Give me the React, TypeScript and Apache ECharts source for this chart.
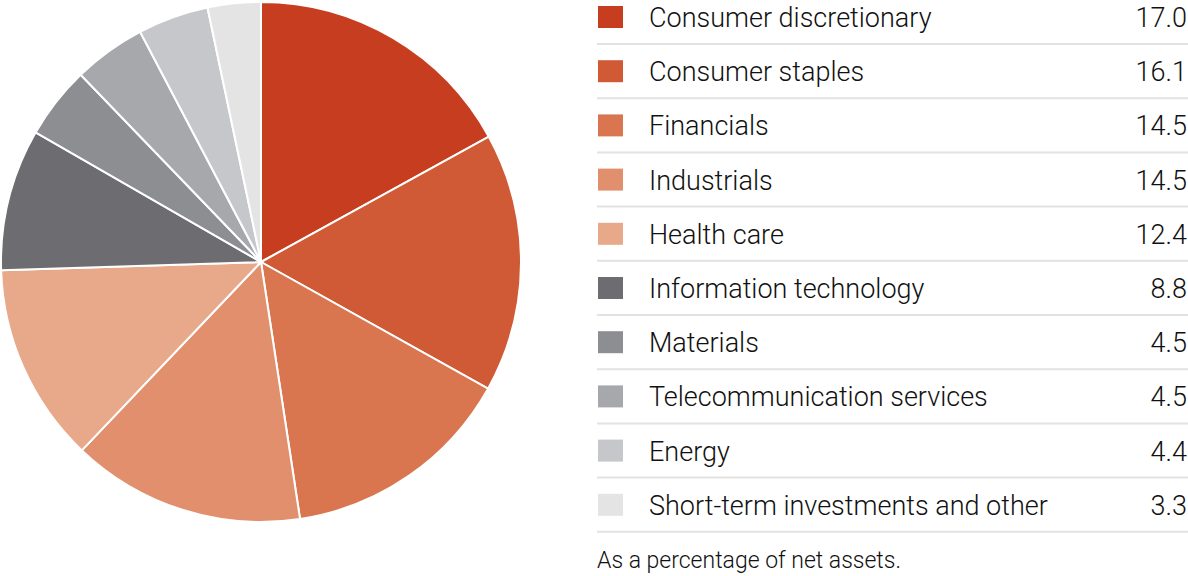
import React, { useEffect, useRef } from "react";
import * as echarts from "echarts";

const categories = [
  "Consumer discretionary",
  "Consumer staples",
  "Financials",
  "Industrials",
  "Health care",
  "Information technology",
  "Materials",
  "Telecommunication services",
  "Energy",
  "Short-term investments and other",
];
const values = [17.0, 16.1, 14.5, 14.5, 12.4, 8.8, 4.5, 4.5, 4.4, 3.3];
const valueLabels = ["17.0", "16.1", "14.5", "14.5", "12.4", "8.8", "4.5", "4.5", "4.4", "3.3"];
const colors = [
  "#C63E1F",
  "#D05A35",
  "#D9764F",
  "#E28F6E",
  "#E8A98A",
  "#6D6D71",
  "#8C8E91",
  "#A7A8AB",
  "#C6C7CA",
  "#E4E4E5",
];
const footnote = "As a percentage of net assets.";

const FONT = "Roboto, sans-serif";

export default function App() {
  const ref = useRef<HTMLDivElement>(null);
  useEffect(() => {
    if (!ref.current) return;
    const chart = echarts.init(ref.current, null, { renderer: "svg" });
    const rowTop = 0;
    const rowH = 54.2;
    const graphics: any[] = [];
    categories.forEach((c, i) => {
      const cy = rowTop + 17 + i * rowH;
      graphics.push({
        type: "rect",
        shape: { x: 598, y: cy - 11, width: 25, height: 22 },
        style: { fill: colors[i] },
      });
      graphics.push({
        type: "text",
        x: 649,
        y: cy + 1,
        style: {
          text: c,
          fill: "#111",
          font: `300 27px ${FONT}`,
          verticalAlign: "middle",
          align: "left",
        },
      });
      graphics.push({
        type: "text",
        x: 1187,
        y: cy + 1,
        style: {
          text: valueLabels[i],
          fill: "#111",
          font: `300 27px ${FONT}`,
          verticalAlign: "middle",
          align: "right",
        },
      });
      graphics.push({
        type: "line",
        shape: { x1: 597, y1: cy + 27, x2: 1188, y2: cy + 27 },
        style: { stroke: "#E2E2E2", lineWidth: 2 },
      });
    });
    graphics.push({
      type: "text",
      x: 597,
      y: 560,
      style: {
        text: footnote,
        fill: "#111",
        font: `300 23px ${FONT}`,
        verticalAlign: "middle",
        align: "left",
      },
    });
    chart.setOption({
      animation: false,
      series: [
        {
          type: "pie",
          center: [261, 262],
          radius: [0, 260],
          startAngle: 90,
          clockwise: true,
          label: { show: false },
          labelLine: { show: false },
          itemStyle: { borderColor: "#fff", borderWidth: 2 },
          data: categories.map((c, i) => ({
            name: c,
            value: values[i],
            itemStyle: { color: colors[i] },
          })),
        },
      ],
      graphic: graphics,
    });
    return () => chart.dispose();
  }, []);
  return <div ref={ref} style={{ width: 1188, height: 576, position: "absolute", left: 0, top: 0 }} />;
}
